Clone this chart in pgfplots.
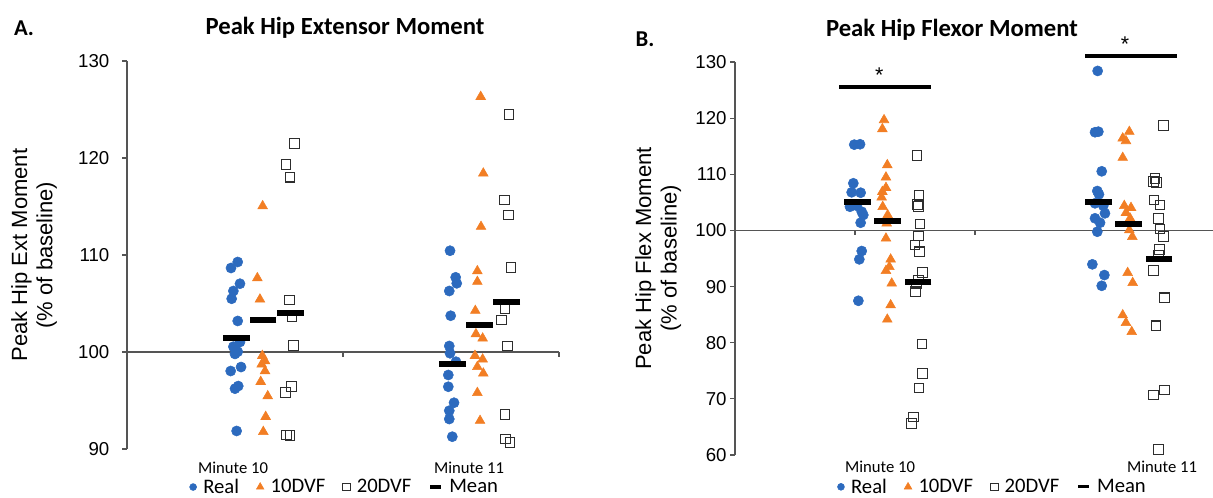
\documentclass[border=0pt]{standalone}
\usepackage{pgfplots}
\pgfplotsset{compat=1.18}
\usepackage{pgfplotstable}
\usepackage{fontspec}
\setmainfont{Liberation Sans}
\newfontfamily\calfont{Carlito}
\definecolor{cblue}{RGB}{44,106,190}
\definecolor{corange}{RGB}{242,126,36}
\definecolor{csq}{RGB}{45,45,45}
\definecolor{caxis}{RGB}{85,85,85}

% ---------------- Panel A data ----------------
\pgfplotstableread{
x y
1.025 109.28
0.963 108.66
1.046 107.04
0.985 106.29
0.969 105.49
1.025 103.20
1.046 101.03
0.985 100.55
1.000 100.30
1.025 100.03
1.000 99.80
1.056 98.45
0.960 98.04
1.030 96.49
1.000 96.22
1.015 91.86
2.991 110.44
3.043 107.70
3.053 107.08
2.984 106.29
2.997 103.74
2.984 100.62
2.991 99.87
3.046 99.00
2.975 97.63
2.975 96.42
3.028 94.77
2.984 93.95
2.984 93.09
3.012 91.27
}\ArealTab
\pgfplotstableread{
x y
1.256 115.05
1.207 107.63
1.231 105.43
1.253 99.62
1.278 99.07
1.247 98.73
1.278 98.04
1.238 96.94
1.303 95.46
1.284 93.33
1.262 91.78
3.275 126.32
3.299 118.42
3.278 112.92
3.244 108.35
3.244 107.25
3.225 104.26
3.231 101.86
3.293 101.41
3.222 99.62
3.293 99.25
3.244 98.48
3.299 97.80
3.244 95.80
3.269 92.92
}\AtenTab
\pgfplotstableread{
x y
1.549 121.52
1.472 119.32
1.509 118.02
1.503 105.36
1.528 103.64
1.540 100.69
1.525 96.42
1.469 95.80
1.478 91.44
1.509 91.37
3.537 124.51
3.494 115.67
3.531 114.12
3.556 108.69
3.500 104.50
3.469 103.30
3.525 100.62
3.500 93.58
3.506 91.03
3.546 90.69
}\AtwentyTab
\pgfplotstableread{
x y
1.010 101.44
1.259 103.30
1.510 104.05
3.016 98.73
3.262 102.78
3.515 105.19
}\AmeanTab

% ---------------- Panel B data ----------------
\pgfplotstableread{
x y
0.994 115.28
1.042 115.35
0.986 108.40
0.972 106.79
1.047 106.72
0.958 104.22
1.014 104.40
1.056 103.33
1.069 102.75
1.047 101.37
1.056 96.33
1.036 94.85
1.028 87.47
3.022 128.41
3.000 117.49
3.028 117.59
3.056 110.53
3.019 107.02
3.033 106.43
3.000 104.83
3.069 104.40
3.083 103.05
3.000 102.16
3.042 101.37
3.019 99.77
2.978 93.96
3.078 92.05
3.056 90.14
}\BrealTab
\pgfplotstableread{
x y
1.242 119.68
1.228 118.07
1.269 111.66
1.258 109.47
1.258 107.61
1.228 106.90
1.222 105.90
1.231 104.22
1.272 102.75
1.264 101.27
1.258 98.59
1.297 94.85
1.286 93.53
1.258 92.82
1.306 90.57
1.297 86.70
1.269 84.15
3.286 117.59
3.231 116.42
3.258 115.94
3.231 112.96
3.244 104.40
3.300 104.05
3.258 103.16
3.292 102.16
3.286 100.07
3.311 98.88
3.272 92.46
3.314 90.68
3.231 84.92
3.258 83.55
3.306 81.94
}\BtenTab
\pgfplotstableread{
x y
1.517 113.32
1.533 106.19
1.522 104.65
1.528 104.22
1.542 101.14
1.531 99.00
1.500 97.40
1.536 96.20
1.561 92.53
1.528 91.16
1.514 90.45
1.506 89.07
1.558 79.75
1.561 74.53
1.533 71.96
1.486 66.79
1.469 65.61
3.569 118.66
3.500 109.29
3.514 108.50
3.486 108.68
3.492 105.42
3.542 104.53
3.528 102.16
3.542 100.25
3.569 98.88
3.536 96.63
3.528 95.61
3.486 92.82
3.578 88.00
3.508 83.01
3.578 71.55
3.486 70.66
3.528 60.98
}\BtwentyTab
\pgfplotstableread{
x y
1.017 105.01
1.269 101.68
1.525 90.75
3.031 105.12
3.281 101.09
3.533 94.90
}\BmeanTab

\pgfplotsset{
  panel/.style={
    scale only axis,
    clip=false,
    xmin=0, xmax=4,
    axis y line*=left,
    axis x line=none,
    y axis line style={caxis, line width=0.8pt},
    tick align=outside,
    major tick length=3.75pt,
    ytick style={caxis, line width=0.8pt},
    extra y ticks={100},
    extra y tick labels={},
    extra y tick style={grid=major, major grid style={caxis, line width=0.8pt}},
    yticklabel style={font=\fontsize{14}{16}\selectfont, /pgf/number format/assume math mode=true},
    ylabel style={font=\fontsize{16.5}{19}\selectfont, align=center, anchor=center},
    legend columns=4,
    legend style={draw=none, fill=none, anchor=center,
      font=\calfont\fontsize{15.5}{17}\selectfont,
      /tikz/every odd column/.append style={column sep=3pt},
      /tikz/every even column/.append style={column sep=11pt},
      inner sep=0pt},
    legend cell align=left,
  },
  realstyle/.style={only marks, mark=*, mark size=3.8pt, mark options={draw=cblue, fill=cblue}},
  tenstyle/.style={only marks, mark=triangle*, mark size=4.2pt, mark options={draw=corange, fill=corange}},
  twentystyle/.style={only marks, mark=square, mark size=3.6pt, mark options={draw=csq, line width=0.8pt}},
  meanstyle/.style={only marks, mark=-, mark size=10.1pt, mark options={draw=black, line width=4.4pt}},
}

\begin{document}
\begin{tikzpicture}
\useasboundingbox (0,0) rectangle (909.75pt,372.75pt);

% ================= Panel A =================
\begin{axis}[panel,
  at={(95.25pt,36pt)}, anchor=south west,
  width=324pt, height=291pt,
  ymin=90, ymax=130, ytick={90,100,...,130},
  yticklabel style={xshift=-6pt},
  ylabel={Peak Hip Ext Moment\\(\% of baseline)},
  ylabel style={at={(axis description cs:-0.215,0.5)}},
  legend style={at={(axis description cs:0.505,-0.098)}},
]
\addlegendimage{only marks, mark=*, mark size=2.6pt, mark options={draw=cblue, fill=cblue}}
\addlegendentry{Real}
\addlegendimage{only marks, mark=triangle*, mark size=3.3pt, mark options={draw=corange, fill=corange}}
\addlegendentry{10DVF}
\addlegendimage{only marks, mark=square, mark size=2.8pt, mark options={draw=csq, line width=0.6pt}}
\addlegendentry{20DVF}
\addlegendimage{legend image code/.code={\draw[black, line width=2.4pt] (2pt,0pt) -- (10pt,0pt);}}
\addlegendentry{Mean}
\pgfplotsinvokeforeach{1,2,3,4}{\draw[caxis, line width=0.8pt] (axis cs:#1,100) -- ++(0pt,-3.75pt);}
\addplot[realstyle, forget plot] table[x=x, y=y] {\ArealTab};
\addplot[tenstyle, forget plot] table[x=x, y=y] {\AtenTab};
\addplot[twentystyle, forget plot] table[x=x, y=y] {\AtwentyTab};
\addplot[meanstyle, forget plot] table[x=x, y=y] {\AmeanTab};
\end{axis}

% ================= Panel B =================
\begin{axis}[panel,
  at={(551.25pt,31.5pt)}, anchor=south west,
  width=360pt, height=294.75pt,
  ymin=60, ymax=130, ytick={60,70,...,130},
  yticklabel style={xshift=1pt},
  ylabel={Peak Hip Flex Moment\\(\% of baseline)},
  ylabel style={at={(axis description cs:-0.16,0.5)}},
  legend style={at={(axis description cs:0.5375,-0.081)}},
]
\addlegendimage{only marks, mark=*, mark size=2.6pt, mark options={draw=cblue, fill=cblue}}
\addlegendentry{Real}
\addlegendimage{only marks, mark=triangle*, mark size=3.3pt, mark options={draw=corange, fill=corange}}
\addlegendentry{10DVF}
\addlegendimage{only marks, mark=square, mark size=2.8pt, mark options={draw=csq, line width=0.6pt}}
\addlegendentry{20DVF}
\addlegendimage{legend image code/.code={\draw[black, line width=2.4pt] (2pt,0pt) -- (10pt,0pt);}}
\addlegendentry{Mean}
\pgfplotsinvokeforeach{1,2,3,4}{\draw[caxis, line width=0.8pt] (axis cs:#1,100) -- ++(0pt,-3.75pt);}
\addplot[realstyle, forget plot] table[x=x, y=y] {\BrealTab};
\addplot[tenstyle, forget plot] table[x=x, y=y] {\BtenTab};
\addplot[twentystyle, forget plot] table[x=x, y=y] {\BtwentyTab};
\addplot[meanstyle, forget plot] table[x=x, y=y] {\BmeanTab};
% significance bars
\addplot[black, line width=3pt, forget plot] coordinates {(0.867,125.5) (1.633,125.5)};
\addplot[black, line width=3pt, forget plot] coordinates {(2.917,131.1) (3.683,131.1)};
\node[font=\fontsize{16}{18}\selectfont] at (axis cs:1.203,127.6) {*};
\node[font=\fontsize{16}{18}\selectfont] at (axis cs:3.25,133.1) {*};
\end{axis}

% titles and panel letters
\node[font=\calfont\bfseries\fontsize{18.5}{21}\selectfont] at (258.75pt,351.75pt) {Peak Hip Extensor Moment};
\node[font=\calfont\bfseries\fontsize{18.5}{21}\selectfont] at (714pt,350.25pt) {Peak Hip Flexor Moment};
\node[font=\calfont\bfseries\fontsize{17}{20}\selectfont] at (18pt,351.75pt) {A.};
\node[font=\calfont\bfseries\fontsize{17}{20}\selectfont] at (483.75pt,343pt) {B.};
% category labels
\node[font=\calfont\fontsize{12.5}{14}\selectfont] at (174.75pt,21.75pt) {Minute 10};
\node[font=\calfont\fontsize{12.5}{14}\selectfont] at (351.75pt,21.75pt) {Minute 11};
\node[font=\calfont\fontsize{12.5}{14}\selectfont] at (660pt,22.5pt) {Minute 10};
\node[font=\calfont\fontsize{12.5}{14}\selectfont] at (871.5pt,22.5pt) {Minute 11};
\end{tikzpicture}
\end{document}
